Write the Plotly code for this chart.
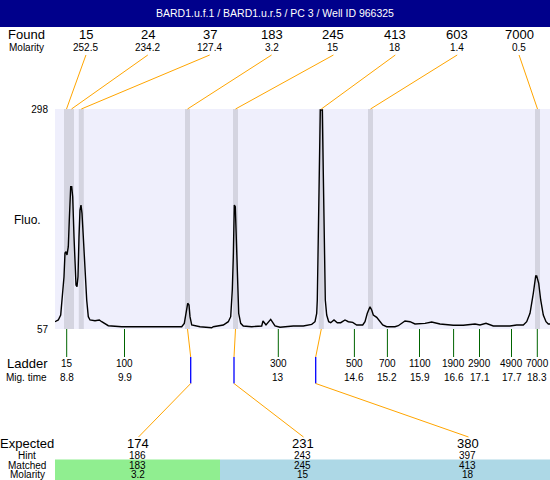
import plotly.graph_objects as go

W, H = 550, 480
title = "BARD1.u.f.1 / BARD1.u.r.5 / PC 3 / Well ID 966325"

# electropherogram trace (x = position along run, y = fluorescence)
trace_x = [0,3.3,5.7,7.3,9,10,11,12,13.3,14.3,
           15.7,16.7,17.7,19,20,21,22,23,24,25,
           26,27,28.3,30,31.7,33.3,35,40,44.3,46.7,
           50,53.3,66.7,126.7,129.3,131,132.7,134,135,136.7,
           145,156.7,158.3,168.3,173.3,175.7,177.3,178.3,179.3,180.3,
           181.3,182.3,183.7,185.7,188.3,196.7,206.7,208,211,215.7,
           220,225,238.3,248.3,256.7,260,261.7,262.3,263.3,264.3,
           265.3,267.3,268.3,269.3,270.3,271.7,273.7,275.7,279,282.3,
           285.7,290,293.3,297.7,301.7,307.7,310,312.3,315,316.7,
           318.3,321.7,324.3,327.7,331.7,340,343.3,350,355,360,
           370,376.7,385,398.3,408.3,420,425,431,438.3,455,
           461.7,468.3,471.7,475,478.3,480.7,481.7,483.7,485.7,488.3,
           491,493.3,495]
trace_y = [65.0,66.9,72.3,92.4,114.3,140.3,141.7,138.1,147.2,176.4,
           212.9,212.9,201.9,158.1,121.6,105.2,103.3,114.3,158.1,187.4,
           192.8,183.7,158.1,121.6,88.8,70.5,66.9,66.1,66.9,65.0,
           62.5,60.6,59.5,59.5,63.2,74.2,85.2,83.3,70.5,61.4,
           59.5,58.4,59.5,61.4,65.0,70.5,99.7,136.2,192.8,191.0,
           154.5,107.1,74.2,63.2,60.3,59.5,60.3,65.8,61.4,67.6,
           60.3,58.9,60.3,60.3,62.1,65.0,74.2,88.8,162.2,234.8,
           296.9,296.9,234.8,143.5,88.8,72.3,65.0,63.9,66.9,63.9,
           63.9,66.9,65.0,64.3,61.4,61.4,65.0,74.2,81.4,77.8,
           72.3,69.8,66.1,61.4,59.5,59.5,60.6,65.8,65.0,62.5,
           63.2,64.7,62.5,61.1,61.1,62.5,61.4,63.2,60.3,60.3,
           61.4,61.4,65.0,74.2,96.1,115.1,115.1,107.1,88.8,72.3,
           65.0,62.5,62.5]

y_min, y_max = 57, 298
x_min, x_max = 0, 495

# found peaks
found_size = ["15", "24", "37", "183", "245", "413", "603", "7000"]
found_molarity = ["252.5", "234.2", "127.4", "3.2", "15", "18", "1.4", "0.5"]
found_pos = [11.5, 16.5, 26.3, 132.5, 180.5, 266.3, 315.5, 482.5]

# ladder
ladder_size = ["15", "100", "300", "500", "700", "1100", "1900", "2900", "4900", "7000"]
ladder_time = ["8.8", "9.9", "13", "14.6", "15.2", "15.9", "16.6", "17.1", "17.7", "18.3"]
ladder_pos = [11.7, 69.5, 223.3, 299.4, 332.4, 364.5, 398.6, 424.5, 456.5, 482.3]

# expected fragments
expected_size = ["174", "231", "380"]
expected_hint = ["186", "243", "397"]
expected_pos = [135.7, 179.0, 260.7]
matched_size = ["183", "245", "413"]
matched_molarity = ["3.2", "15", "18"]
matched_found_index = [3, 4, 5]
matched_status = ["good", "other", "other"]

FONT = "Liberation Sans, Arial, sans-serif"
BG = "#EFEFFC"
BAND = "#D4D4E0"
ORANGE = "#FFA500"
GREEN = "#006400"
BLUE = "#0000FF"
status_color = {"good": "#90EE90", "other": "#ADD8E6"}

def py(p):  # pixel row -> paper y
    return 1 - p / H

PLOT_L, PLOT_T, PLOT_B = 55, 109, 329

fig = go.Figure()
fig.add_trace(go.Scatter(x=trace_x, y=trace_y, mode="lines",
                         line=dict(color="black", width=1.4),
                         hoverinfo="skip", showlegend=False))

shapes = []
ann = []

def label(text, x, y, size, xref="paper", color="black"):
    ann.append(dict(text=text, xref=xref, yref="paper", x=x, y=y, showarrow=False,
                    xanchor="center", yanchor="middle",
                    font=dict(size=size, family=FONT, color=color)))

# header
shapes.append(dict(type="rect", xref="paper", yref="paper", x0=0, x1=1,
                   y0=py(27), y1=1, fillcolor="#00008B", line_width=0, layer="below"))
label(title, 0.5, py(13.5), 10.5, color="white")

# found peaks: bands, labels, connectors
n_found = len(found_size)
slot_w = (x_max - x_min) / n_found
for i, (s, m, p) in enumerate(zip(found_size, found_molarity, found_pos)):
    shapes.append(dict(type="rect", xref="x", yref="y domain", x0=p - 2.5, x1=p + 2.5,
                       y0=0, y1=1, fillcolor=BAND, line_width=0, layer="below"))
    cx = x_min + (i + 0.5) * slot_w
    label(s, cx, py(35), 13, xref="x")
    label(m, cx, py(47.5), 10, xref="x")
    shapes.append(dict(type="line", xref="x", yref="paper", x0=cx, y0=py(55),
                       x1=p, y1=py(PLOT_T), line=dict(color=ORANGE, width=1)))

label("Found", 26 / W, py(35), 13)
label("Molarity", 26 / W, py(47.5), 10)
label("Fluo.", 27 / W, py(220), 12)

# ladder
for s, t, p in zip(ladder_size, ladder_time, ladder_pos):
    shapes.append(dict(type="line", xref="x", yref="paper", x0=p, x1=p,
                       y0=py(PLOT_B), y1=py(357), line=dict(color=GREEN, width=1)))
    label(s, p, py(363.5), 10, xref="x")
    label(t, p, py(377), 10, xref="x")
label("Ladder", 27 / W, py(363.5), 13)
label("Mig. time", 26 / W, py(377), 10)

# expected / matched
n_exp = len(expected_size)
eslot = (x_max - x_min) / n_exp
for j in range(n_exp):
    cx = x_min + (j + 0.5) * eslot
    shapes.append(dict(type="rect", xref="x", yref="paper", x0=x_min + j * eslot,
                       x1=x_min + (j + 1) * eslot, y0=0, y1=py(459.5),
                       fillcolor=status_color[matched_status[j]], line_width=0, layer="below"))
    fp = found_pos[matched_found_index[j]]
    ep = expected_pos[j]
    shapes.append(dict(type="line", xref="x", yref="paper", x0=fp, y0=py(PLOT_B),
                       x1=ep, y1=py(357), line=dict(color=ORANGE, width=1)))
    shapes.append(dict(type="line", xref="x", yref="paper", x0=ep, y0=py(357),
                       x1=ep, y1=py(383.5), line=dict(color=BLUE, width=1.3)))
    shapes.append(dict(type="line", xref="x", yref="paper", x0=ep, y0=py(383.5),
                       x1=cx + 1, y1=py(437), line=dict(color=ORANGE, width=1)))
    label(expected_size[j], cx, py(443.5), 13, xref="x")
    label(expected_hint[j], cx, py(455), 10, xref="x")
    label(matched_size[j], cx, py(465.5), 10, xref="x")
    label(matched_molarity[j], cx, py(474.5), 10, xref="x")

for txt, yy, sz in [("Expected", 443.5, 13), ("Hint", 455, 10),
                    ("Matched", 465.5, 10), ("Molarity", 474.5, 10)]:
    label(txt, 27 / W, py(yy), sz)

fig.update_layout(
    width=W, height=H, autosize=False,
    margin=dict(l=0, r=0, t=0, b=0, pad=0, autoexpand=False),
    paper_bgcolor="white", plot_bgcolor=BG,
    shapes=shapes, annotations=ann, showlegend=False,
    xaxis=dict(domain=[PLOT_L / W, 1], range=[x_min, x_max], visible=False,
               fixedrange=True, automargin=False),
    yaxis=dict(domain=[py(PLOT_B), py(PLOT_T)], range=[y_min, y_max],
               tickvals=[y_min, y_max], ticktext=[str(y_min), str(y_max)],
               showgrid=False, zeroline=False, showline=False, ticks="",
               ticklabelstandoff=6, tickfont=dict(size=10, family=FONT, color="black"),
               fixedrange=True, automargin=False),
)

fig.write_html("out.html", config={"displayModeBar": False, "responsive": False},
               post_script="document.body.style.margin='0';document.body.style.padding='0';"
                           "document.body.style.overflow='hidden';")
